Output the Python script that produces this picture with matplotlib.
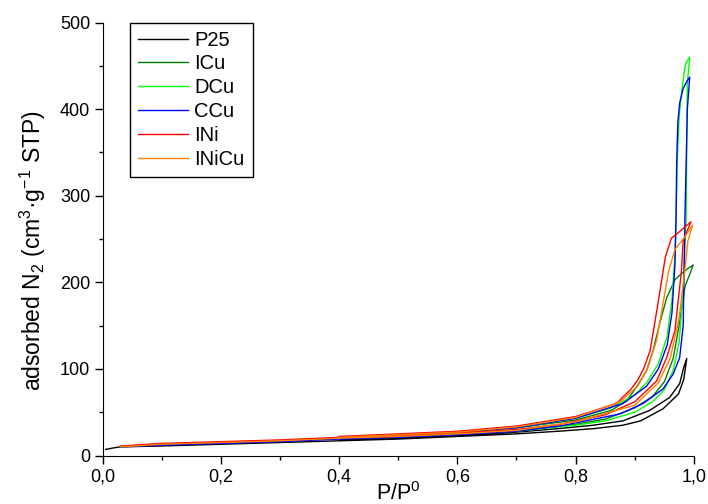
import matplotlib
matplotlib.use("Agg")
import matplotlib.pyplot as plt
from matplotlib.ticker import MultipleLocator, FuncFormatter

plt.rcParams['font.family'] = ['Liberation Sans', 'DejaVu Sans']
plt.rcParams['mathtext.default'] = 'regular'

# low-pressure part shared by the adsorption branches
low_p = [0.03, 0.1, 0.2, 0.3, 0.4, 0.5, 0.6, 0.7]

# P25
p25_ads_p = [0.005, 0.02] + low_p + [0.77, 0.83, 0.88, 0.91, 0.948, 0.974, 0.983, 0.988]
p25_ads_v = [7, 9, 10, 11, 13, 15, 17, 19, 22, 25, 28, 31, 35, 40, 54, 71, 88, 112]
p25_des_p = [0.983, 0.976, 0.959, 0.925, 0.88, 0.83, 0.77, 0.7, 0.6, 0.5, 0.4]
p25_des_v = [102, 83, 67, 52, 40, 35, 31, 27, 23, 20, 18]

# ICu
icu_ads_p = low_p + [0.8, 0.85, 0.9, 0.93, 0.95, 0.965, 0.975, 0.985, 0.999]
icu_ads_v = [10, 13, 15, 17, 20, 22, 25, 29, 36, 42, 55, 68, 85, 112, 150, 195, 220]
icu_des_p = [0.99, 0.979, 0.968, 0.954, 0.942, 0.931, 0.920, 0.903, 0.886, 0.86, 0.8, 0.7, 0.6, 0.5, 0.4]
icu_des_v = [216, 210, 203, 182, 152, 121, 98, 79, 63, 52, 41, 32, 27, 24, 21]

# DCu
dcu_ads_p = low_p + [0.8, 0.85, 0.9, 0.93, 0.95, 0.965, 0.975, 0.982, 0.987, 0.989, 0.993]
dcu_ads_v = [10, 13, 15, 17, 20, 22, 25, 28, 35, 40, 50, 62, 76, 98, 130, 190, 276, 430, 460]
dcu_des_p = [0.988, 0.985, 0.979, 0.975, 0.972, 0.970, 0.968, 0.963, 0.955, 0.94, 0.92, 0.9, 0.86, 0.8, 0.7, 0.6, 0.5, 0.4]
dcu_des_v = [455, 449, 418, 390, 340, 280, 230, 180, 138, 106, 84, 70, 55, 43, 32, 27, 24, 21]

# CCu
ccu_ads_p = low_p + [0.773, 0.875, 0.914, 0.948, 0.965, 0.976, 0.982, 0.985, 0.989, 0.993]
ccu_ads_v = [10, 12, 14, 16, 19, 21, 24, 28, 34, 48, 60, 77, 94, 113, 150, 276, 400, 437]
ccu_des_p = [0.988, 0.982, 0.976, 0.973, 0.971, 0.970, 0.968, 0.963, 0.955, 0.94, 0.92, 0.88, 0.8, 0.7, 0.6, 0.5, 0.4]
ccu_des_v = [432, 424, 407, 385, 340, 276, 220, 165, 128, 100, 80, 60, 43, 32, 27, 23, 20]

# INi
ini_ads_p = low_p + [0.773, 0.85, 0.9, 0.937, 0.954, 0.968, 0.979, 0.982, 0.995]
ini_ads_v = [11, 14, 16, 18, 21, 23, 26, 30, 36, 47, 62, 86, 113, 144, 213, 248, 270]
ini_des_p = [0.975, 0.962, 0.952, 0.945, 0.938, 0.926, 0.915, 0.905, 0.894, 0.869, 0.8, 0.7, 0.6, 0.5, 0.4]
ini_des_v = [258, 251, 230, 200, 170, 121, 100, 87, 77, 60, 45, 34, 28, 25, 22]

# INiCu
inicu_ads_p = low_p + [0.8, 0.9, 0.94, 0.96, 0.975, 0.985, 0.99, 0.998]
inicu_ads_v = [10, 13, 15, 17, 20, 22, 25, 29, 39, 58, 84, 112, 158, 215, 248, 266]
inicu_des_p = [0.982, 0.968, 0.957, 0.947, 0.937, 0.922, 0.905, 0.875, 0.8, 0.7, 0.6, 0.5, 0.4]
inicu_des_v = [250, 238, 212, 172, 133, 101, 80, 62, 44, 33, 27, 24, 21]

samples = ["P25", "ICu", "DCu", "CCu", "INi", "INiCu"]
colors = ["#000000", "#008000", "#00ff00", "#0000ff", "#ff0000", "#ff8000"]
ads_p = [p25_ads_p, icu_ads_p, dcu_ads_p, ccu_ads_p, ini_ads_p, inicu_ads_p]
ads_v = [p25_ads_v, icu_ads_v, dcu_ads_v, ccu_ads_v, ini_ads_v, inicu_ads_v]
des_p = [p25_des_p, icu_des_p, dcu_des_p, ccu_des_p, ini_des_p, inicu_des_p]
des_v = [p25_des_v, icu_des_v, dcu_des_v, ccu_des_v, ini_des_v, inicu_des_v]

fig = plt.figure(figsize=(7.08, 5.04), dpi=100)
ax = fig.add_axes([0.145, 0.0962, 0.835, 0.859])

for name, c, ap, av, dp, dv in zip(samples, colors, ads_p, ads_v, des_p, des_v):
    ax.plot(ap + dp, av + dv, color=c, lw=1.0, label=name)

ax.set_xlim(0, 1.0)
ax.set_ylim(0, 500)
ax.xaxis.set_major_locator(MultipleLocator(0.2))
ax.xaxis.set_minor_locator(MultipleLocator(0.1))
ax.yaxis.set_major_locator(MultipleLocator(100))
ax.yaxis.set_minor_locator(MultipleLocator(50))
ax.xaxis.set_major_formatter(FuncFormatter(lambda v, p: f"{v:.1f}".replace(".", ",")))
ax.tick_params(which='major', direction='out', length=6, width=1, labelsize=13, pad=3)
ax.tick_params(which='minor', direction='out', length=3, width=1)
ax.spines['top'].set_visible(False)
ax.spines['right'].set_visible(False)

ax.set_xlabel("P/P$^0$", fontsize=15.5, labelpad=-2)
ax.set_ylabel("adsorbed N$_2$ (cm$^3$·g$^{-1}$ STP)", fontsize=16.5)
ax.yaxis.set_label_coords(-0.093, 0.4725)

leg = ax.legend(loc='upper left', bbox_to_anchor=(0.046, 1.0), borderaxespad=0,
                fontsize=14.5, frameon=True, fancybox=False, edgecolor='black',
                handlelength=2.5, handletextpad=0.3, labelspacing=0.24, borderpad=0.4,
                framealpha=1)
leg.get_frame().set_linewidth(1.0)

fig.savefig("out.png", dpi=100)
